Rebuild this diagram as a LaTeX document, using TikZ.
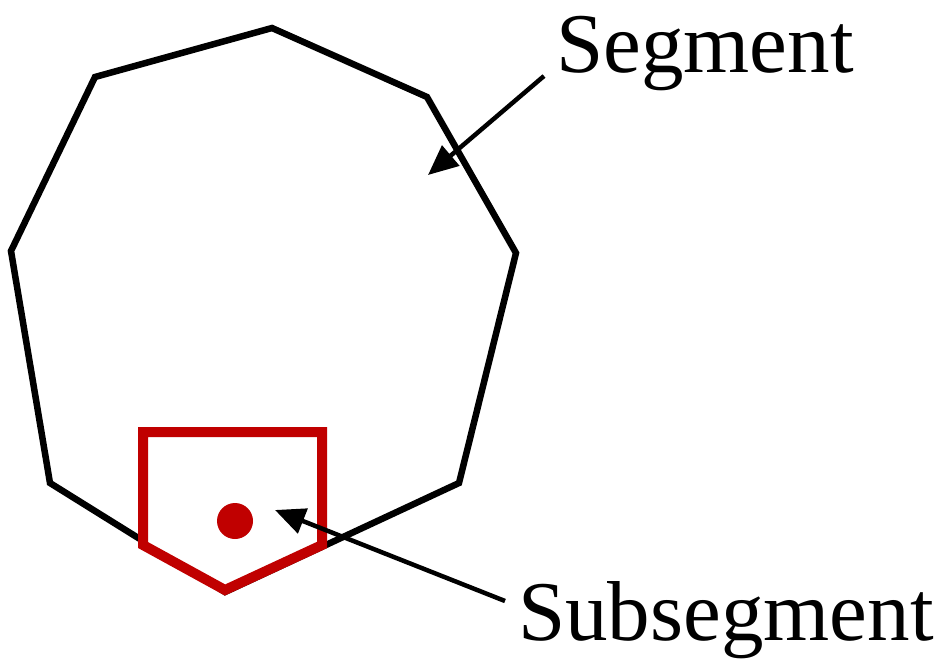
\documentclass[tikz,border=0pt]{standalone}
\usepackage{fontspec}
\setmainfont{Liberation Serif}
\usetikzlibrary{arrows.meta}
\definecolor{subred}{RGB}{192,0,0}
\begin{document}
\begin{tikzpicture}[x=1pt,y=-1pt,
  segline/.style={line width=6.5pt,line join=miter,black},
  subline/.style={line width=10pt,line join=miter,subred,fill=white},
  pointer/.style={line width=4.5pt,-{Triangle[length=30pt,width=26pt]}},
  lbl/.style={font=\fontsize{85}{100}\selectfont,inner sep=0pt,anchor=base west}]
\useasboundingbox (0,0) rectangle (942,659);
% segment polygon
\draw[segline] (95,77) -- (272,28) -- (427,97) -- (516,253) -- (459,483) -- (225,592) -- (50,483) -- (11,251) -- cycle;
% subsegment
\draw[subline] (143,432) -- (322,432) -- (322,545) -- (225,590) -- (143,545) -- cycle;
\fill[subred] (235,521) circle (18);
\node[lbl] (seg) at (556,72) {Segment};
\node[lbl] (sub) at (518,640) {Subsegment};
\coordinate (segfrom) at (544,76);
\coordinate (segto) at (428,175);
\coordinate (subfrom) at (505,601);
\coordinate (subto) at (275,510);
\draw[pointer] (segfrom) -- (segto);
\draw[pointer] (subfrom) -- (subto);
\end{tikzpicture}
\end{document}
